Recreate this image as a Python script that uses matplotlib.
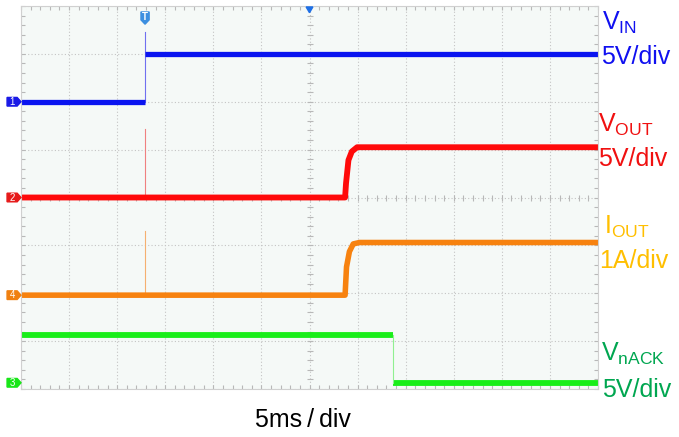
import numpy as np
import matplotlib.pyplot as plt
from matplotlib.patches import Polygon
from matplotlib.ticker import MultipleLocator

plt.rcParams['font.family'] = ['Liberation Sans', 'DejaVu Sans']
plt.rcParams['mathtext.fontset'] = 'custom'
plt.rcParams['mathtext.rm'] = 'Liberation Sans'

# scope traces, in divisions (12 x 8 graticule)
trig_t = 2.58

vin_t = [0, 2.58, 2.58, 12]
vin_v = [6.0, 6.0, 7.0, 7.0]
vin_spike = 7.46

vout_t = [0, 6.74, 6.76, 6.81, 6.88, 6.99, 12]
vout_v = [4.0, 4.0, 4.30, 4.78, 4.96, 5.05, 5.05]
vout_spike = 5.44

iout_t = [0, 6.74, 6.77, 6.83, 6.91, 7.04, 12]
iout_v = [1.96, 1.96, 2.55, 2.87, 3.03, 3.06, 3.06]
iout_spike = 3.29

nack_t = [0, 7.73, 7.73, 12]
nack_v = [1.13, 1.13, 0.13, 0.13]

fig = plt.figure(figsize=(6.79, 4.37), dpi=100)
ax = fig.add_axes([21/679, 48/437, 577/679, 383/437])
ax.set_facecolor('#F5F9F7')
ax.set_xlim(0, 12)
ax.set_ylim(0, 8)

# graticule
ax.set_xticks(range(13))
ax.set_yticks(range(9))
ax.xaxis.set_minor_locator(MultipleLocator(0.2))
ax.yaxis.set_minor_locator(MultipleLocator(0.2))
ax.tick_params(which='both', direction='in', top=True, right=True,
               labelbottom=False, labelleft=False,
               color='#B8B8B8', length=3, width=0.8)
ax.grid(which='major', color='#C4C4C4', linestyle=(0, (1, 2)), linewidth=0.8)
for s in ax.spines.values():
    s.set_color('#D0D0D0')
    s.set_linewidth(0.8)
cy = np.arange(0, 8.01, 0.2)
cx = np.arange(0, 12.01, 0.2)
ax.plot([6] * len(cy), cy, ls='none', marker='_', ms=5, mew=0.8, color='#B8B8B8')
ax.plot(cx, [4] * len(cx), ls='none', marker='|', ms=5, mew=0.8, color='#B8B8B8')

# trigger spikes
ax.plot([trig_t, trig_t], [vin_v[0], vin_spike], color='#7070F0', lw=0.8)
ax.plot([trig_t, trig_t], [vout_v[0], vout_spike], color='#F08080', lw=0.8)
ax.plot([trig_t, trig_t], [iout_v[0], iout_spike], color='#F5B070', lw=0.8)

# traces
blue, red, orange, green = '#0A14F0', '#FF0A0A', '#F7820F', '#19EE19'
ax.plot(vin_t[:2], vin_v[:2], color=blue, lw=3.8, solid_capstyle='butt')
ax.plot(vin_t[2:], vin_v[2:], color=blue, lw=3.8, solid_capstyle='butt')
ax.plot(vout_t, vout_v, color=red, lw=4.2, solid_capstyle='butt')
ax.plot(iout_t, iout_v, color=orange, lw=4.0, solid_capstyle='butt')
ax.plot(nack_t[:2], nack_v[:2], color=green, lw=4.2, solid_capstyle='butt')
ax.plot(nack_t[2:], nack_v[2:], color=green, lw=4.2, solid_capstyle='butt')
ax.plot(nack_t[1:3], nack_v[1:3], color='#90F090', lw=0.8)

# channel tags
tags = [('1', vin_v[0], '#1A1AE6'), ('2', vout_v[0], '#E61A1A'),
        ('4', iout_v[0], '#F08010'), ('3', nack_v[-1], '#19E619')]
for num, y, c in tags:
    h = 0.09
    ax.add_patch(Polygon([(-0.29, y - h), (-0.08, y - h), (0, y), (-0.08, y + h), (-0.29, y + h)],
                         closed=True, color=c, clip_on=False, zorder=5))
    ax.text(-0.18, y, num, color='white', fontsize=7, ha='center', va='center',
            clip_on=False, zorder=6)

# trigger and center markers
ax.add_patch(Polygon([(2.495, 7.875), (2.665, 7.875), (2.665, 7.71), (2.58, 7.62), (2.495, 7.71)],
                     closed=True, color='#3D8FE0', zorder=6))
ax.text(2.58, 7.78, 'T', color='white', fontsize=7, fontweight='bold',
        ha='center', va='center', zorder=7)
ax.add_patch(Polygon([(5.93, 7.98), (6.07, 7.98), (6.0, 7.86)], closed=True,
                     color='#1E6FE6', zorder=6))

# labels on the right
labels = [
    (r'V$_{\mathrm{IN}}$', 602, 30, '#1010F0'),
    ('5V/div', 601, 64, '#1010F0'),
    (r'V$_{\mathrm{OUT}}$', 598, 132, '#F01010'),
    ('5V/div', 598, 166, '#F01010'),
    (r'I$_{\mathrm{OUT}}$', 604, 234, '#FFBF00'),
    ('1A/div', 599, 268, '#FFBF00'),
    (r'V$_{\mathrm{nACK}}$', 601, 361, '#00A650'),
    ('5V/div', 602, 397, '#00A650'),
]
for txt, x, y, c in labels:
    fig.text(x / 679, 1 - y / 437, txt, color=c, fontsize=18, ha='left', va='baseline')

fig.text(303 / 679, 1 - 427 / 437, '5ms\u2009/\u2009div', color='black', fontsize=18,
         ha='center', va='baseline')

fig.savefig('out.png', dpi=100)
